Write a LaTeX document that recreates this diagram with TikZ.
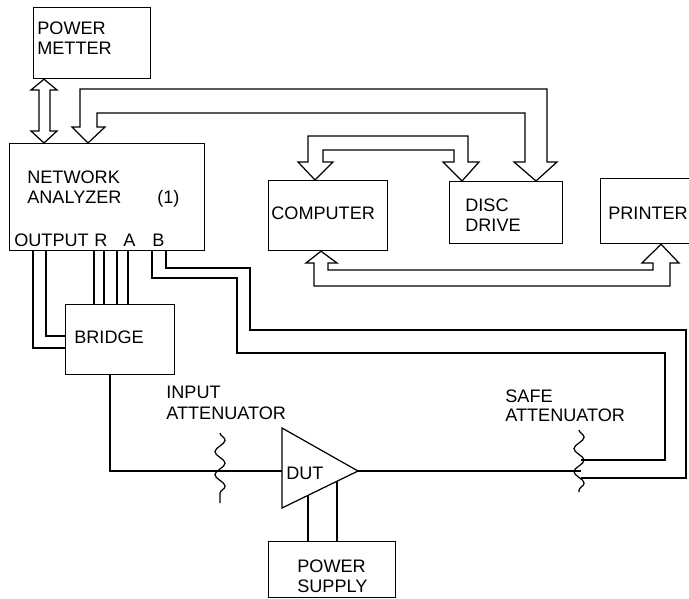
\documentclass[tikz,border=0pt]{standalone}
\usepackage{fontspec}
\setmainfont{Liberation Sans}
\usetikzlibrary{positioning,calc,decorations.pathmorphing}

\begin{document}
\begin{tikzpicture}[
  x=0.02cm, y=-0.02cm,
  box/.style={draw, line width=0.7pt, anchor=north west, inner sep=0pt},
  wire/.style={line width=0.7pt},
  pipe/.style={line width=0.7pt, line join=miter},
  atten/.style={line width=0.7pt, decorate,
                decoration={snake, amplitude=2.9pt, segment length=0.46cm}},
  lbl/.style={anchor=base west, inner sep=0pt,
              font=\fontsize{10.3}{12}\selectfont}]
\useasboundingbox (0,0) rectangle (689,598);

% ================= instruments ============================================
\node[box, minimum width=2.34cm, minimum height=1.42cm] (pm)   at (33,7)    {};
\node[box, minimum width=3.90cm, minimum height=2.14cm] (na)   at (9,143)   {};
\node[box, minimum width=2.38cm, minimum height=1.40cm] (comp) at (268,180) {};
\node[box, minimum width=2.26cm, minimum height=1.24cm] (disc) at (449,181) {};
\node[box, minimum width=2.00cm, minimum height=1.30cm] (prn)  at (600,178) {};
\node[box, minimum width=2.18cm, minimum height=1.40cm] (br)   at (65,304)  {};
\node[box, minimum width=2.54cm, minimum height=1.12cm] (ps)   at (268,541) {};

\node[lbl] (pmA) at (37,35) {POWER};
\node[lbl] (pmB) at (37,55) {METTER};
\node[lbl] (naA) at (27,183) {NETWORK};
\node[lbl] (naB) at (27,203) {ANALYZER};
\node[lbl] (naC) at (157,203) {(1)};
\node[lbl] (nout) at (14,246) {OUTPUT};
\foreach \x/\lab in {94/R, 123/A, 152/B}
  {\node[lbl] (port\lab) at (\x,246) {\lab};}
\node[lbl] (compA) at (271,219) {COMPUTER};
\node[lbl] (discA) at (465,211) {DISC};
\node[lbl] (discB) at (465,231) {DRIVE};
\node[lbl] (prnA)  at (608,219) {PRINTER};
\node[lbl] (brA)   at (74,343)  {BRIDGE};
\node[lbl] (psA)   at (297,572) {POWER};
\node[lbl] (psB)   at (297,592) {SUPPLY};

% ================= data buses (hollow arrows) =============================
% power meter <-> analyzer
\draw[pipe] (39,90) -- (31,90) -- (pm.south -| 44,0) -- (57,90) -- (50,90)
  -- (50,131) -- (57,131) -- (na.north -| 44,0) -- (31,131) -- (39,131) -- cycle;
% disc drive <-> analyzer
\draw[pipe] (80,127) -- (80,89) -- (547,89) -- (547,162) -- (557,162)
  -- (disc.north -| 536,0) -- (514,162) -- (525,162) -- (525,113) -- (97,113)
  -- (97,127) -- (105,127) -- (na.north -| 88,0) -- (72,127) -- cycle;
% computer <-> disc drive
\draw[pipe] (308,162) -- (308,136) -- (468,136) -- (468,162) -- (479,162)
  -- (disc.north -| 462,0) -- (443,162) -- (454,162) -- (454,150) -- (323,150)
  -- (323,162) -- (333,162) -- (comp.north -| 315,0) -- (298,162) -- cycle;
% computer <-> printer
\draw[pipe] (314,263) -- (306,263) -- (comp.south -| 321,0) -- (337,263)
  -- (328,263) -- (328,270) -- (653,270) -- (653,263) -- (642,263)
  -- (prn.south -| 661,0) -- (679,263) -- (670,263) -- (670,286) -- (314,286)
  -- cycle;

% ================= analyzer ports ========================================
\draw[wire] (na.south -| 33,0) |- (br.west |- 0,348);
\draw[wire] (na.south -| 46,0) |- (br.west |- 0,336);
\foreach \x in {94,104,117,128}
  {\draw[wire] (na.south -| \x,0) -- (br.north -| \x,0);}
% B port runs round to the safe attenuator
\draw[wire] (na.south -| 152,0) |- (237,278) |- (665,353) |- (581,460);
\draw[wire] (na.south -| 166,0) |- (250,268) |- (686,330) |- (581,478);

% ================= signal path ===========================================
\coordinate (dutin)  at (282,471);
\coordinate (dutout) at (358,471);
\draw[wire] (282,428) -- (dutout) -- (282,508) -- cycle;
\node[lbl] (dutA) at (286,479) {DUT};
\draw[wire] (br.south -| 110,0) |- (dutin);
\draw[wire] (dutout) -- (581,471);
\draw[wire] (308,495) -- (ps.north -| 308,0);
\draw[wire] (337,481) -- (ps.north -| 337,0);

\draw[atten] (220,433) -- (220,503);
\draw[atten] (579,430) -- (579,492);
\node[lbl] (inA) at (166,398) {INPUT};
\node[lbl] (inB) at (166,419) {ATTENUATOR};
\node[lbl] (sfA) at (505,402) {SAFE};
\node[lbl] (sfB) at (505,421) {ATTENUATOR};

\end{tikzpicture}
\end{document}
